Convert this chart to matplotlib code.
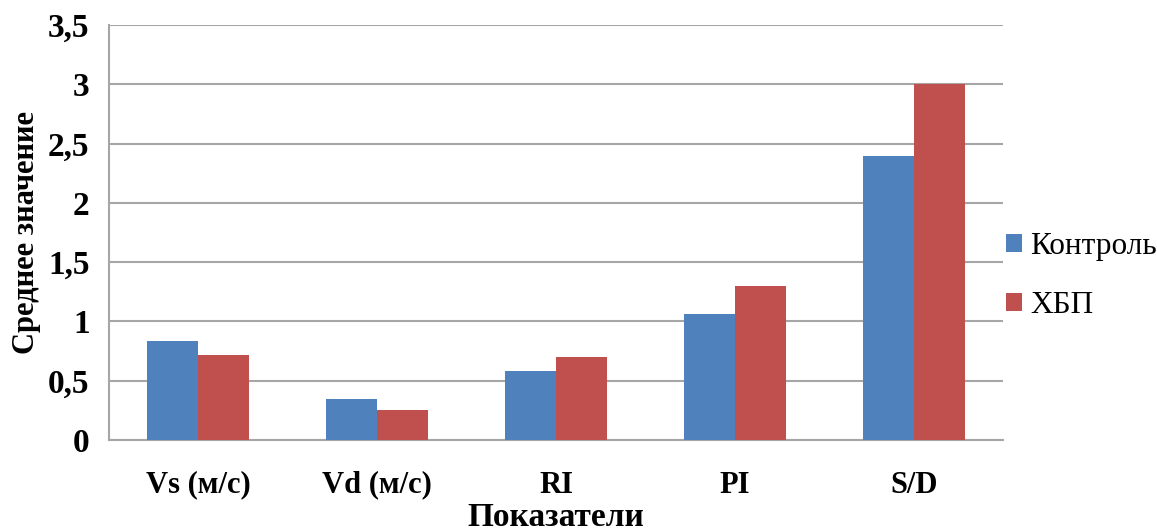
import numpy as np
import matplotlib.pyplot as plt

# Данные
categories = ['Vs (м/с)', 'Vd (м/с)', 'RI', 'PI', 'S/D']
control = [0.835, 0.345, 0.585, 1.06, 2.395]
ckd = [0.717, 0.25, 0.697, 1.30, 3.0]
series_names = ['Контроль', 'ХБП']
yticks = [0, 0.5, 1, 1.5, 2, 2.5, 3, 3.5]
ytick_labels = ['0', '0,5', '1', '1,5', '2', '2,5', '3', '3,5']

plt.rcParams['font.family'] = ['Liberation Serif', 'DejaVu Serif']

fig = plt.figure(figsize=(11.57, 5.31), dpi=100)
ax = fig.add_axes([0.0942, 0.1714, 0.7728, 0.7815])

x = np.arange(len(categories))
w = 0.285
ax.bar(x - w / 2, control, w, color='#4F81BD', label=series_names[0], zorder=3)
ax.bar(x + w / 2, ckd, w, color='#C0504D', label=series_names[1], zorder=3)

ax.set_xlim(-0.5, len(categories) - 0.5)
ax.set_ylim(0, 3.5)
ax.set_yticks(yticks)
ax.set_yticklabels(ytick_labels, fontsize=24, fontweight='bold')
ax.set_xticks(x)
ax.set_xticklabels(categories, fontsize=22, fontweight='bold')
ax.tick_params(axis='both', length=0)
ax.tick_params(axis='y', pad=14)
ax.tick_params(axis='x', pad=22)

ax.yaxis.grid(True, color='#A6A6A6', linewidth=1.5, zorder=0)
for s in ['top', 'right']:
    ax.spines[s].set_visible(False)
for s in ['left', 'bottom']:
    ax.spines[s].set_color('#A6A6A6')
    ax.spines[s].set_linewidth(1.5)

ax.set_ylabel('Среднее значение', fontsize=22, fontweight='bold', labelpad=5)
ax.set_xlabel('Показатели', fontsize=24, fontweight='bold', labelpad=2)

ax.legend(loc='center left', bbox_to_anchor=(1.0, 0.395), frameon=False,
          fontsize=22.5, handlelength=0.52, handleheight=0.52, handletextpad=0.25,
          labelspacing=0.95, borderpad=0, borderaxespad=0.1)

fig.savefig('out.png', dpi=100)
